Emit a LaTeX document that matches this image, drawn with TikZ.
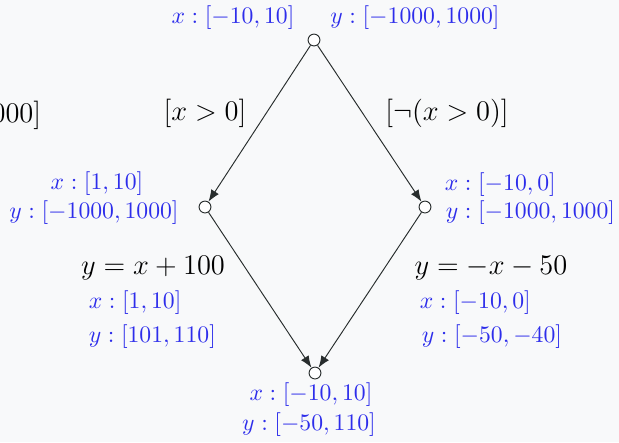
\documentclass[tikz,border=0pt]{standalone}
\usetikzlibrary{arrows.meta}
\definecolor{bg}{RGB}{248,249,250}
\definecolor{lblue}{RGB}{45,45,235}
\definecolor{edge}{RGB}{40,45,45}
\begin{document}
\begin{tikzpicture}[x=0.422pt,y=-0.422pt,
  state/.style={circle,draw=edge,fill=white,inner sep=0pt,minimum size=5pt},
  info/.style={text=lblue,inner sep=1pt,font=\normalsize},
  guard/.style={inner sep=1pt,font=\large},
  flow/.style={draw=edge,line width=0.4pt,-{Latex[length=5pt,width=3.8pt]}}]
\fill[bg] (0,0) rectangle (619,442);
\useasboundingbox (0,0) rectangle (619,442);
\node[state] (top) at (314,40) {};
\node[state] (left) at (205,207) {};
\node[state] (right) at (425,207) {};
\node[state] (bot) at (315,373) {};
\draw[flow] (top) -- (left);
\draw[flow] (top) -- (right);
\draw[flow] (left) -- (bot);
\draw[flow] (right) -- (bot);
% top labels
\node[info] (tx) at (233,18) {$x:[-10,10]$};
\node[info] (ty) at (415,18) {$y:[-1000,1000]$};
% guards
\node[guard] (g1) at (205,113) {$[x>0]$};
\node[guard] (g2) at (447,113) {$[\neg(x>0)]$};
\node[guard,anchor=east] (cut) at (44,115) {$000]$};
% left state
\node[info] (lx) at (97,184) {$x:[1,10]$};
\node[info] (ly) at (94,213) {$y:[-1000,1000]$};
% right state
\node[info,anchor=west] (rx) at (442,185) {$x:[-10,0]$};
\node[info,anchor=west] (ry) at (443,213) {$y:[-1000,1000]$};
% left assignment
\node[guard] (la) at (153,268) {$y=x+100$};
\node[info,anchor=west] (lax) at (86,303) {$x:[1,10]$};
\node[info,anchor=west] (lay) at (86,337) {$y:[101,110]$};
% right assignment
\node[guard] (ra) at (491,268) {$y=-x-50$};
\node[info,anchor=west] (rax) at (417,303) {$x:[-10,0]$};
\node[info,anchor=west] (ray) at (419,337) {$y:[-50,-40]$};
% bottom
\node[info] (bx) at (311,395) {$x:[-10,10]$};
\node[info] (by) at (309,425) {$y:[-50,110]$};
\end{tikzpicture}
\end{document}
